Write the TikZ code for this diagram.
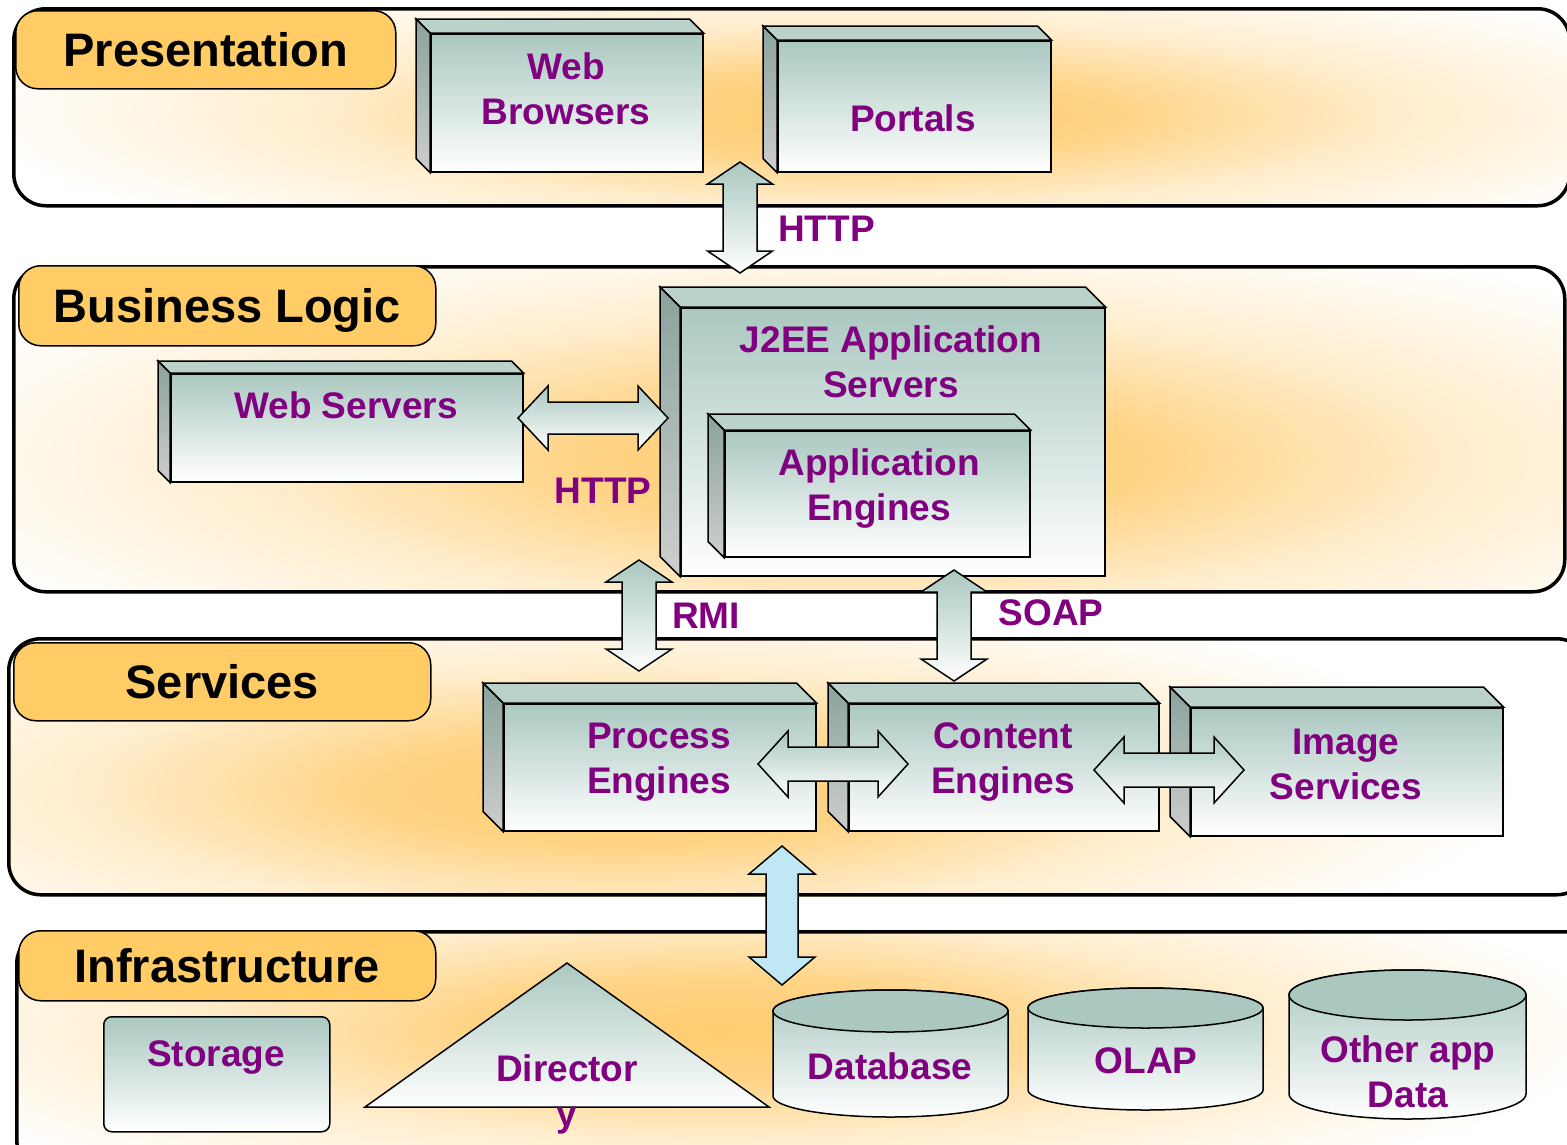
\documentclass[tikz,border=0pt]{standalone}
\usepackage{fontspec}
\setmainfont{Liberation Sans}
\usetikzlibrary{calc, backgrounds}

\definecolor{tealtop}{RGB}{170,200,192}
\definecolor{topface}{RGB}{186,210,202}
\definecolor{sidetop}{RGB}{138,163,156}
\definecolor{sidebot}{RGB}{206,206,206}
\definecolor{labelfill}{RGB}{255,204,102}
\definecolor{labeltext}{RGB}{128,0,128}
\definecolor{glow}{RGB}{255,204,112}
\definecolor{lightblue}{RGB}{192,232,244}
\pgfdeclareradialshading{softglow}{\pgfpoint{0bp}{0bp}}{color(0bp)=(glow);
	color(7bp)=(glow!85!white); color(15bp)=(glow!35!white); color(25bp)=(white); color(50bp)=(white)}

\begin{document}
\begin{tikzpicture}[x=1pt, y=-1pt,
	layerbox/.style={draw, line width=3.5pt, rounded corners=32pt, anchor=north west, inner sep=0},
	labelbox/.style={draw, line width=1.5pt, fill=labelfill, rounded corners=22pt, anchor=north west,
		inner sep=0, text depth=0pt, font=\bfseries\fontsize{47}{56}\selectfont},
	frontface/.style={draw, line width=1.5pt, top color=tealtop, bottom color=white, anchor=north west, inner sep=0},
	btext/.style={text=labeltext, font=\bfseries\fontsize{37}{45}\selectfont, align=center, inner sep=0},
	blockarrow/.style n args={3}{draw, line width=1.5pt, to path={
		-- ($(\tikztostart)!#1!(\tikztotarget)!#2!90:(\tikztotarget)$)
		-- ($(\tikztostart)!#1!(\tikztotarget)!#3!90:(\tikztotarget)$)
		-- ($(\tikztotarget)!#1!(\tikztostart)!#3!-90:(\tikztostart)$)
		-- ($(\tikztotarget)!#1!(\tikztostart)!#2!-90:(\tikztostart)$)
		-- (\tikztotarget)
		-- ($(\tikztotarget)!#1!(\tikztostart)!#2!90:(\tikztostart)$)
		-- ($(\tikztotarget)!#1!(\tikztostart)!#3!90:(\tikztostart)$)
		-- ($(\tikztostart)!#1!(\tikztotarget)!#3!-90:(\tikztotarget)$)
		-- ($(\tikztostart)!#1!(\tikztotarget)!#2!-90:(\tikztotarget)$)
		-- cycle}}]
	\useasboundingbox (0,0) rectangle (1567,1144);

	% layers
	\node[layerbox, minimum width=1556, minimum height=197] (presentation) at (12,7) {};
	\node[layerbox, minimum width=1551, minimum height=325] (business) at (12,265) {};
	\node[layerbox, minimum width=1580, minimum height=256] (services) at (7,637) {};
	\node[layerbox, minimum width=1580, minimum height=240] (infrastructure) at (15,930) {};
	\begin{scope}[on background layer]
		\foreach \l/\gx/\gy/\rx/\ry in {presentation/860/115/900/150, business/860/460/1000/240,
			services/620/790/900/200, infrastructure/720/1030/900/180}{
			\begin{scope}
				\clip[rounded corners=32pt] (\l.north west) rectangle (\l.south east);
				\shade[shading=softglow] (\gx,\gy) ellipse [x radius=\rx, y radius=\ry];
			\end{scope}
		}
	\end{scope}

	\node[labelbox, minimum width=380, minimum height=78] (presentationlabel) at (15,10) {Presentation};
	\node[labelbox, minimum width=417, minimum height=80] (businesslabel) at (18,265) {Business Logic};
	\node[labelbox, minimum width=417, minimum height=78] (serviceslabel) at (13,642) {Services};
	\node[labelbox, minimum width=417, minimum height=70] (infralabel) at (18,930) {Infrastructure};

	% boxes
	\node[frontface, minimum width=272, minimum height=138] (webbrowsers) at (430,33) {};
	\node[frontface, minimum width=273, minimum height=131] (portals) at (777,40) {};
	\node[frontface, minimum width=352, minimum height=108] (webservers) at (170,373) {};
	\node[frontface, minimum width=424, minimum height=268] (j2ee) at (680,307) {};
	\node[frontface, minimum width=305, minimum height=126] (appengines) at (724,430) {};
	\node[frontface, minimum width=312, minimum height=127] (processeng) at (503,703) {};
	\node[frontface, minimum width=310, minimum height=127] (contenteng) at (848,703) {};
	\node[frontface, minimum width=312, minimum height=128] (imageserv) at (1190,707) {};
	\foreach \b/\d in {webbrowsers/14, portals/14, webservers/12, j2ee/20, appengines/16,
		processeng/20, contenteng/20, imageserv/20}{
		\filldraw[fill=topface, line width=1.5pt] (\b.north west) -- ++(-\d,-\d)
			-- ([shift={(-\d,-\d)}]\b.north east) -- (\b.north east) -- cycle;
		\shade[draw, line width=1.5pt, top color=sidetop, bottom color=sidebot] (\b.north west) -- ++(-\d,-\d)
			-- ([shift={(-\d,-\d)}]\b.south west) -- (\b.south west) -- cycle;
	}

	\node[frontface, rounded corners=8pt, minimum width=226, minimum height=115] (storage) at (103,1016) {};
	\shade[draw, line width=1.5pt, top color=tealtop, bottom color=white] (567,963) coordinate (dirtop)
		-- (769,1107) coordinate (dirright) -- (365,1107) coordinate (dirleft) -- cycle;
	\foreach \xa/\xb/\ya/\yb/\rx/\ry in {773/1008/1011/1096/117.5/21, 1028/1263/1008/1090/117.5/20,
		1289/1526/995/1094/118.5/25}{
		\shade[draw, line width=1.5pt, top color=tealtop, bottom color=white] (\xa,\ya) -- (\xa,\yb)
			arc[start angle=180, end angle=0, x radius=\rx, y radius=\ry] -- (\xb,\ya)
			arc[start angle=0, end angle=-180, x radius=\rx, y radius=\ry] -- cycle;
		\draw[line width=1.5pt, fill=tealtop] ({(\xa+\xb)/2},\ya) ellipse [x radius=\rx, y radius=\ry];
	}

	% texts
	\node[btext] (webbrowserstext) at (566,89) {Web\\Browsers};
	\node[btext, anchor=base] (portalstext) at (913,131) {Portals};
	\node[btext, anchor=base] (webserverstext) at (346,418) {Web Servers};
	\node[btext] (j2eetext) at (891,362) {J2EE Application\\Servers};
	\node[btext] (appenginestext) at (879,489) {Application\\Engines};
	\node[btext] (processtext) at (659,762) {Process\\Engines};
	\node[btext] (contenttext) at (1003,762) {Content\\Engines};
	\node[btext] (imagetext) at (1346,764) {Image\\Services};
	\node[btext, anchor=base] (storagetext) at (216,1066) {Storage};
	\node[btext] (directorytext) at (567,1094) {Director\\y};
	\node[btext, anchor=base] (databasetext) at (890,1079) {Database};
	\node[btext, anchor=base] (olaptext) at (1146,1073) {OLAP};
	\node[btext] (otherapptext) at (1408,1072) {Other app\\Data};

	% arrows
	\coordinate (httpa) at (740,162);
	\coordinate (httpb) at (740,273);
	\coordinate (weba) at (518,418);
	\coordinate (webb) at (668,418);
	\coordinate (rmia) at (639,560);
	\coordinate (rmib) at (639,671);
	\coordinate (soapa) at (954,570);
	\coordinate (soapb) at (954,681);
	\coordinate (proca) at (758,764);
	\coordinate (procb) at (908,764);
	\coordinate (conta) at (1094,770);
	\coordinate (contb) at (1244,770);
	\coordinate (infraa) at (782,846);
	\coordinate (infrab) at (782,985);
	\path[blockarrow={22pt}{32.5pt}{17pt}, top color=tealtop, bottom color=white] (httpa) to (httpb);
	\path[blockarrow={30pt}{32pt}{16pt}, top color=tealtop, bottom color=white] (weba) to (webb);
	\path[blockarrow={22pt}{33pt}{17pt}, top color=tealtop, bottom color=white] (rmia) to (rmib);
	\path[blockarrow={22pt}{33pt}{17pt}, top color=tealtop, bottom color=white] (soapa) to (soapb);
	\path[blockarrow={30pt}{33pt}{17pt}, top color=tealtop, bottom color=white] (proca) to (procb);
	\path[blockarrow={30pt}{33pt}{17pt}, top color=tealtop, bottom color=white] (conta) to (contb);
	\path[blockarrow={28pt}{33pt}{16pt}, fill=lightblue] (infraa) to (infrab);

	\node[btext, anchor=base west] (httptoptext) at (778,241) {HTTP};
	\node[btext, anchor=base] (httpwebtext) at (603,503) {HTTP};
	\node[btext, anchor=base] (rmitext) at (706,628) {RMI};
	\node[btext, anchor=base] (soaptext) at (1051,625) {SOAP};
\end{tikzpicture}
\end{document}
